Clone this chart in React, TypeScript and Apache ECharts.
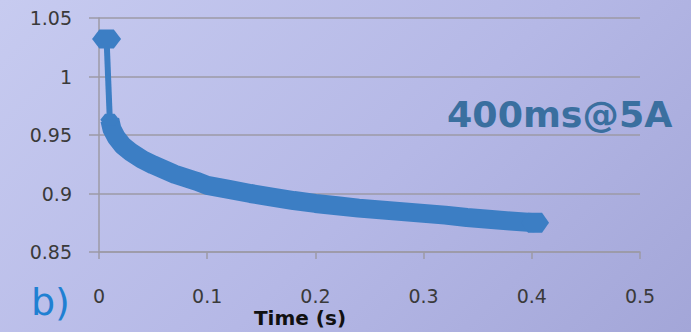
import React, { useEffect, useRef } from "react";
import * as echarts from "echarts";

// Axis ticks
const xTicks = [0, 0.1, 0.2, 0.3, 0.4, 0.5];
const yTicks = [0.85, 0.9, 0.95, 1, 1.05];

// Initial jump (time in s, value)
const jumpTimes = [0.007, 0.01];
const jumpValues = [1.032, 0.963];

// Decay curve
const curveTimes = [
  0.01, 0.012, 0.016, 0.022, 0.03, 0.04, 0.05, 0.06, 0.07, 0.08, 0.09, 0.1,
  0.12, 0.14, 0.16, 0.18, 0.2, 0.22, 0.24, 0.26, 0.28, 0.3, 0.32, 0.34, 0.36,
  0.38, 0.403,
];
const curveValues = [
  0.963, 0.955, 0.948, 0.941, 0.935, 0.929, 0.9245, 0.9205, 0.9165, 0.9135,
  0.9105, 0.907, 0.9035, 0.9, 0.897, 0.894, 0.8915, 0.8895, 0.8875, 0.886,
  0.8845, 0.883, 0.8815, 0.8795, 0.878, 0.8765, 0.875,
];

const annotation = "400ms@5A";
const panelLabel = "b)";
const xTitle = "Time (s)";

const HEX = "path://M0,8L7,0L21,0L28,8L21,16L7,16Z";
const BLUE = "#3c7ec4";
const GRID = "#9c9aa6";

export default function App() {
  const ref = useRef<HTMLDivElement>(null);

  useEffect(() => {
    if (!ref.current) return;
    const chart = echarts.init(ref.current, undefined, { renderer: "svg" });

    const jumpData = jumpTimes.map((t, i) =>
      i === 0
        ? { value: [t, jumpValues[i]], symbol: HEX, symbolSize: [29, 19] }
        : { value: [t, jumpValues[i]] }
    );
    const curveData = curveTimes.map((t, i) => {
      if (i === 0) return { value: [t, curveValues[i]], symbol: HEX, symbolSize: [19, 12] };
      if (i === curveTimes.length - 1)
        return { value: [t, curveValues[i]], symbol: HEX, symbolSize: [28, 20] };
      return { value: [t, curveValues[i]] };
    });

    chart.setOption({
      animation: false,
      backgroundColor: "transparent",
      grid: { left: 99, right: 51, top: 18, bottom: 80, containLabel: false },
      xAxis: {
        type: "value",
        min: xTicks[0],
        max: xTicks[xTicks.length - 1],
        interval: 0.1,
        axisLine: { show: true, lineStyle: { color: GRID, width: 1.5 } },
        axisTick: { show: true, length: 7, lineStyle: { color: GRID, width: 1.5 } },
        splitLine: { show: false },
        axisLabel: {
          margin: 34,
          color: "#3a3a3a",
          fontFamily: "DejaVu Sans",
          fontSize: 19,
        },
      },
      yAxis: {
        type: "value",
        min: yTicks[0],
        max: yTicks[yTicks.length - 1],
        interval: 0.05,
        axisLine: { show: true, lineStyle: { color: GRID, width: 1.5 } },
        axisTick: { show: true, length: 10, lineStyle: { color: GRID, width: 1.5 } },
        splitLine: { show: true, lineStyle: { color: GRID, width: 1.5 } },
        axisLabel: {
          margin: 27,
          color: "#3a3a3a",
          fontFamily: "DejaVu Sans",
          fontSize: 19,
        },
      },
      series: [
        {
          type: "line",
          data: jumpData,
          symbol: "none",
          itemStyle: { color: BLUE },
          lineStyle: { color: BLUE, width: 6 },
          z: 3,
        },
        {
          type: "line",
          data: curveData,
          symbol: "none",
          itemStyle: { color: BLUE },
          lineStyle: { color: BLUE, width: 19, join: "round", cap: "butt" },
          z: 2,
        },
      ],
      graphic: [
        {
          type: "text",
          x: 447,
          y: 115,
          scaleX: 1.04,
          style: {
            text: annotation,
            fontFamily: "DejaVu Sans",
            fontWeight: "bold",
            fontSize: 35,
            fill: "#3a6f9f",
            textAlign: "left",
            textVerticalAlign: "middle",
          },
        },
        {
          type: "text",
          x: 31,
          y: 302,
          style: {
            text: panelLabel,
            fontFamily: "DejaVu Sans",
            fontSize: 38,
            fill: "#1f80d2",
            textAlign: "left",
            textVerticalAlign: "middle",
          },
        },
        {
          type: "text",
          x: 300,
          y: 318,
          style: {
            text: xTitle,
            fontFamily: "DejaVu Sans",
            fontWeight: "bold",
            fontSize: 20,
            fill: "#111111",
            textAlign: "center",
            textVerticalAlign: "middle",
          },
        },
      ],
    });

    return () => chart.dispose();
  }, []);

  return (
    <div
      ref={ref}
      style={{
        position: "fixed",
        left: 0,
        top: 0,
        width: 691,
        height: 332,
        background: "linear-gradient(135deg, #c7cbf0 0%, #b5b8e6 55%, #a3a6d8 100%)",
      }}
    />
  );
}
